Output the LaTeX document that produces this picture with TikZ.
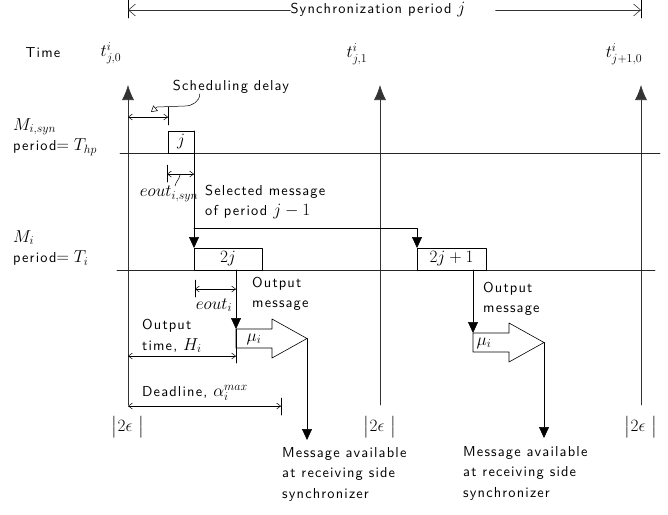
\documentclass[tikz,border=0pt]{standalone}
\usepackage{amsmath,amssymb}
\usepackage{fontspec}
\newfontfamily\lblfont{lmsans10-regular}[Extension=.otf,LetterSpace=8]
\DeclareMathSizes{14.4}{17.28}{12}{10}
\usepackage{tikz}
\usetikzlibrary{arrows.meta,positioning,calc}
\tikzset{
    every picture/.style={line cap=round,line join=round},
    lbl/.style={font=\lblfont\fontsize{14.4}{20.5}\selectfont,inner sep=0pt,align=left},
    msgbox/.style={draw,line width=0.6pt,minimum height=22pt,inner sep=0pt,outer sep=0pt,
      font=\fontsize{14.4}{16}\selectfont,anchor=south west},
    timeline/.style={draw=black!80,line width=0.7pt,-{Latex[length=15pt,width=12pt]}},
    rowline/.style={draw=black!85,line width=0.6pt},
    flowarrow/.style={-{Triangle[length=11pt,width=10pt]},line width=0.6pt},
    dimarrow/.style={{Straight Barb[length=4pt,width=6pt]}-{Straight Barb[length=4pt,width=6pt]},
      line width=0.5pt},
    tickline/.style={line width=0.5pt},
    callout/.style={line width=0.5pt},
    outshape/.style={draw,line width=0.6pt,fill=white},
    periodarrow/.style={-{Straight Barb[length=7pt,width=12pt]},draw=black!80,line width=0.6pt}
}
\begin{document}
\begin{tikzpicture}[x=1pt,y=-1pt]
  \useasboundingbox (0,0) rectangle (668,514);
  % synchronization period
  \coordinate (s0) at (128,10);
  \coordinate (s1) at (641,10);
  \node[lbl] (sync) at (378,10) {Synchronization period $j$};
  \draw[tickline] ($(s0)+(0,-10)$) -- ($(s0)+(0,8)$);
  \draw[tickline] ($(s1)+(0,-10)$) -- ($(s1)+(0,8)$);
  \draw[periodarrow] (sync.west) -- (s0);
  \draw[periodarrow] ($(sync.east)+(30,0)$) -- (s1);
  % time axis
  \node[lbl] (time) at (43,53) {Time};
  \node[lbl] (t0) at (111,53) {$t^i_{j,0}$};
  \node[lbl] (t1) at (357,54) {$t^i_{j,1}$};
  \node[lbl] (t2) at (624,54) {$t^i_{j+1,0}$};
  \foreach \n/\x in {0/128,1/380,2/641}{
    \coordinate (b\n) at (\x,405);
    \coordinate (a\n) at (\x,85);
    \draw[timeline] (b\n) -- (a\n);
    \node[lbl] (eps\n) at (\x,427) {$\bigl|2\epsilon\ \bigr|$};
  }
  % message rows
  \node[lbl,anchor=west] (msyn) at (13,137) {$M_{i,syn}$\\period$=T_{hp}$};
  \node[lbl,anchor=west] (mi) at (13,248) {$M_i$\\period$=T_i$};
  \coordinate (r0a) at (120,153);
  \coordinate (r0b) at (660,153);
  \coordinate (r1a) at (117,270);
  \coordinate (r1b) at (655,270);
  \draw[rowline] (r0a) -- (r0b);
  \draw[rowline] (r1a) -- (r1b);
  \node[msgbox,minimum width=26pt] (bj) at (168,153) {$j$};
  \node[msgbox,minimum width=68pt] (b2j) at (194,270) {$2j$};
  \node[msgbox,minimum width=69pt] (b2j1) at (417,270) {$2j+1$};
  % selected message
  \draw[flowarrow] (bj.north east) -- (b2j.north west);
  \coordinate (sel) at (194,228);
  \draw[flowarrow] (sel) -| (b2j1.north west);
  \node[lbl,anchor=west] (selmsg) at (205,202) {Selected message\\of period $j-1$};
  % scheduling delay
  \coordinate (sd) at (168,117);
  \draw[dimarrow] (a0 |- sd) -- (sd);
  \draw[tickline] ($(sd)+(0,-10)$) -- ($(sd)+(0,8)$);
  \node[lbl] (sched) at (231,87) {Scheduling delay};
  \draw[callout,-{Triangle[open,length=6pt,width=7pt]}] ($(sched.south west)+(27,0)$)
    to[out=-90,in=0] (185,106) -- (157,107) -- (151,112);
  % eout of the synchronizer message
  \coordinate (es) at (167,174);
  \draw[dimarrow] (es) -- (bj.east |- es);
  \draw[tickline] ($(es)+(0,-9)$) -- ($(es)+(0,8)$);
  \node[lbl] (eoutsyn) at (169,194) {$eout_{i,syn}$};
  \draw[callout] ($(es)+(13,1)$) to[out=-100,in=80] ($(eoutsyn.north)+(6,0)$);
  % output of period 2j
  \coordinate (o1) at (236,329);
  \draw[flowarrow] (b2j.south -| o1) -- (o1);
  \draw[outshape] (o1) -- ++(36,0) -- ++(0,-10) -- ++(35,19.5) coordinate (tip1)
    -- ++(-35,19.5) -- ++(0,-10) -- ++(-36,0) -- cycle;
  \node[lbl] (mu1) at (254,339) {$\mu_i$};
  \node[lbl,anchor=west] (outmsg1) at (252,294) {Output\\message};
  \coordinate (ei) at (195,289);
  \draw[dimarrow] (ei) -- (o1 |- ei);
  \draw[tickline] ($(ei)+(0,-9)$) -- ($(ei)+(0,8)$);
  \node[lbl] (eouti) at (214,305) {$eout_i$};
  \coordinate (h) at (236,356);
  \draw[dimarrow] (a0 |- h) -- (h);
  \draw[tickline] (o1) -- ($(h)+(0,7)$);
  \node[lbl,anchor=west] (outtime) at (142,336) {Output\\time, $H_i$};
  \coordinate (dl) at (281,406);
  \draw[dimarrow] (a0 |- dl) -- (dl);
  \draw[tickline] ($(dl)+(0,-8)$) -- ($(dl)+(0,9)$);
  \node[lbl,anchor=west] (deadl) at (142,393) {Deadline, $\alpha_i^{max}$};
  \node[lbl,anchor=north west] (avail1) at (282,447) {Message available\\at receiving side\\synchronizer};
  \draw[flowarrow] (tip1) -- ($(tip1 |- avail1.north)+(0,-7)$);
  % output of period 2j+1
  \coordinate (o2) at (473,333);
  \draw[flowarrow] (b2j1.south -| o2) -- (o2);
  \draw[outshape] (o2) -- ++(36,0) -- ++(0,-10) -- ++(35,19.5) coordinate (tip2)
    -- ++(-35,19.5) -- ++(0,-10) -- ++(-36,0) -- cycle;
  \node[lbl] (mu2) at (484,343) {$\mu_i$};
  \node[lbl,anchor=west] (outmsg2) at (483,299) {Output\\message};
  \node[lbl,anchor=north west] (avail2) at (463,446) {Message available\\at receiving side\\synchronizer};
  \draw[flowarrow] (tip2) -- ($(tip2 |- avail2.north)+(0,-8)$);
\end{tikzpicture}
\end{document}
